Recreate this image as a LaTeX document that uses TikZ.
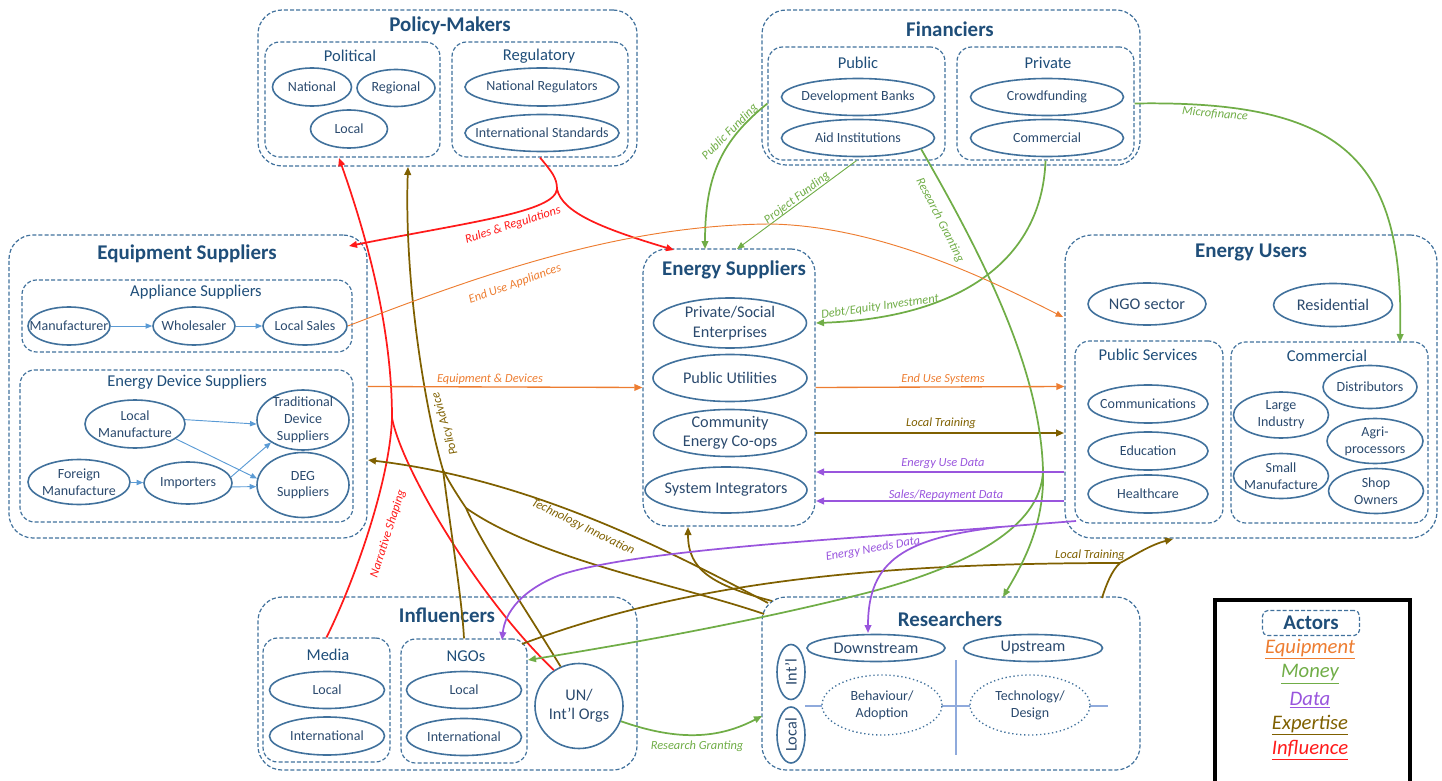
\documentclass[tikz,border=0pt]{standalone}
\usepackage{fontspec}
\setmainfont{Carlito}
\usetikzlibrary{arrows.meta,fit,calc,shapes.geometric}
\definecolor{bc}{HTML}{41719C}
\definecolor{tc}{HTML}{1F4E79}
\definecolor{et}{HTML}{2B4A6E}
\definecolor{cor}{HTML}{ED7D31}
\definecolor{cgr}{HTML}{70AD47}
\definecolor{cpu}{HTML}{9955DD}
\definecolor{cbr}{HTML}{7F6000}
\definecolor{cre}{HTML}{FF1A1A}
\definecolor{lb}{HTML}{5B9BD5}
\definecolor{xl}{HTML}{8FAADC}
\newcommand{\fT}{\fontsize{15.7}{18}\selectfont\bfseries}
\newcommand{\fH}{\fontsize{12.4}{14.5}\selectfont}
\newcommand{\fE}{\fontsize{10.5}{12.6}\selectfont}
\newcommand{\fB}{\fontsize{12.2}{14.6}\selectfont}
\newcommand{\fL}{\fontsize{9.3}{11}\selectfont\itshape}
\newcommand{\fLg}{\fontsize{15.5}{18}\selectfont\itshape}
\newcommand{\Ell}[6][]{\node[ell,minimum width=#4*0.75pt,minimum height=#5*0.75pt] (#2) at (#3) {};\node[etext,#1] (#2-t) at (#2.center) {#6};}
\begin{document}
\begin{tikzpicture}[x=0.75pt,y=-0.75pt,
 grp/.style={draw=bc, line width=0.9pt, dash pattern=on 3pt off 1.6pt, rounded corners=#1, inner sep=0pt},
 grp/.default=11pt,
 ell/.style={draw=bc, line width=1.2pt, ellipse, inner sep=0pt},
 dell/.style={draw=bc, line width=1pt, dotted, ellipse, inner sep=0pt, fill=white},
 etext/.style={text=et, font=\fE, align=center, inner sep=0pt},
 ttl/.style={text=tc, font=\fT, inner sep=0pt},
 hd/.style={text=tc, font=\fH, inner sep=0pt},
 lbl/.style={font=\fL, inner sep=0pt},
 ln/.style={line width=1.3pt},
 ar/.style={line width=1.3pt, -{Triangle[length=6pt,width=5pt]}},
 art/.style={line width=0.7pt, -{Triangle[length=5.5pt,width=4.5pt]}},
 bar/.style={draw=lb, line width=0.7pt, -{Triangle[length=5pt,width=4pt]}},
 lgd/.style={font=\fLg, inner sep=0pt}
]
\useasboundingbox (0,0) rectangle (1442,781);

% ---------------- Policy-Makers
\node[grp=18pt, fit={(258,10) (637,166)}] (pm) {};
\node[ttl] (pmT) at (450,26) {Policy-Makers};
\node[grp, fit={(265,42) (440,157)}] (pol) {};
\node[hd] (polT) at (350,56) {Political};
\Ell{nat}{312,87}{79}{38}{National}
\Ell{rgn}{396,88}{78}{37}{Regional}
\Ell{loc}{349,129}{77}{38}{Local}
\node[grp, fit={(452,42) (628,157)}] (reg) {};
\node[hd] (regT) at (539,56) {Regulatory};
\Ell{nreg}{542,87}{154}{38}{National Regulators}
\Ell{istd}{542,133}{154}{37}{International Standards}

% ---------------- Financiers
\node[grp=18pt, fit={(762,10) (1140,165)}] (fin) {};
\node[ttl] (finT) at (950,29) {Financiers};
\node[grp, fit={(768,47) (945,160)}] (pub) {};
\node[hd] (pubT) at (858,63) {Public};
\Ell{dbk}{858,97}{153}{37}{Development Banks}
\Ell{aid}{858,138}{153}{37}{Aid Institutions}
\node[grp, fit={(957,47) (1134,160)}] (pri) {};
\node[hd] (priT) at (1048,63) {Private};
\Ell{cfd}{1047,97}{153}{37}{Crowdfunding}
\Ell{cml}{1047,138}{153}{37}{Commercial}

% ---------------- Equipment Suppliers
\node[grp=18pt, fit={(9,235) (367,538)}] (eqs) {};
\node[ttl] (eqsT) at (187,254) {Equipment Suppliers};
\node[grp, fit={(22,280) (352,352)}] (app) {};
\node[hd] (appT) at (196,292) {Appliance Suppliers};
\Ell{man}{69,326}{82}{38}{Manufacturer}
\Ell{who}{194,326}{82}{38}{Wholesaler}
\Ell{lsa}{305,326}{84}{38}{Local Sales}
\node[grp, fit={(20,370) (353,522)}] (eds) {};
\node[hd] (edsT) at (187,382) {Energy Device Suppliers};
\Ell{lman}{135,424}{100}{48}{Local\\Manufacture}
\Ell{fman}{79,482}{102}{45}{Foreign\\Manufacture}
\Ell{imp}{188,483}{88}{42}{Importers}
\Ell{trad}{303,420}{92}{60}{Traditional\\Device\\Suppliers}
\Ell{deg}{303,485}{92}{65}{DEG\\Suppliers}
\draw[bar] (man) -- (who);
\draw[bar] (who) -- (lsa);
\draw[bar] (lman.5) -- (trad.185);
\draw[bar] (lman.-20) -- (deg.172);
\draw[bar] (fman) -- (imp);
\draw[bar] (imp.8) -- (trad.215);
\draw[bar] (imp.-5) -- (deg.182);

% ---------------- Energy Suppliers
\node[grp=18pt, fit={(643,249) (815,526)}] (esu) {};
\node[ttl] (esuT) at (734,270) {Energy Suppliers};
\Ell[font=\fB]{pse}{730,323}{153}{50}{Private/Social\\Enterprises}
\Ell[font=\fB]{put}{730,378}{154}{47}{Public Utilities}
\Ell[font=\fB]{cec}{730,433}{153}{47}{Community\\Energy Co-ops}
\Ell[font=\fB]{sin}{726,490}{162}{46}{System Integrators}

% ---------------- Energy Users
\node[grp=20pt, fit={(1065,235) (1437,538)}] (eus) {};
\node[ttl] (eusT) at (1251,252) {Energy Users};
\Ell[font=\fB]{ngs}{1147,304}{118}{42}{NGO sector}
\Ell[font=\fB]{rsd}{1333,305}{119}{43}{Residential}
\node[grp, fit={(1075,341) (1223,523)}] (psv) {};
\node[hd] (psvT) at (1148,355) {Public Services};
\Ell{cmm}{1148,404}{120}{38}{Communications}
\Ell{edu}{1148,451}{120}{38}{Education}
\Ell{hlt}{1148,494}{120}{38}{Healthcare}
\node[grp, fit={(1231,342) (1428,523)}] (com) {};
\node[hd] (comT) at (1327,356) {Commercial};
\Ell{dst}{1370,387}{94}{43}{Distributors}
\Ell{lin}{1281,415}{95}{46}{Large\\Industry}
\Ell{agr}{1375,441}{96}{45}{Agri-\\processors}
\Ell{sma}{1281,476}{95}{45}{Small\\Manufacture}
\Ell{sho}{1376,491}{95}{45}{Shop\\Owners}

% ---------------- Influencers
\node[grp=18pt, fit={(258,597) (637,770)}] (inf) {};
\node[ttl] (infT) at (447,615) {Influencers};
\node[grp, fit={(263,638) (390,762)}] (med) {};
\node[hd] (medT) at (328,655) {Media};
\Ell{mloc}{327,690}{115}{37}{Local}
\Ell{mint}{327,736}{115}{38}{International}
\node[grp, fit={(401,639) (527,763)}] (ngo) {};
\node[hd] (ngoT) at (466,656) {NGOs};
\Ell{nloc}{464,690}{115}{37}{Local}
\Ell{nint}{464,737}{115}{37}{International}
\Ell[font=\fB]{un}{579,706}{88}{85}{UN/\\Int’l Orgs}

% ---------------- Researchers
\node[grp=18pt, fit={(762,597) (1140,770)}] (res) {};
\node[ttl] (resT) at (950,619) {Researchers};
\draw[xl, line width=0.8pt] (805,706) -- (1108,706);
\draw[xl, line width=0.8pt] (956,660) -- (956,755);
\Ell[font=\fB]{dsm}{876,648}{138}{27}{Downstream}
\Ell[font=\fB]{usm}{1033,648}{139}{27}{Upstream}
\Ell[font=\fB,rotate=90]{intl}{791,672}{28}{55}{Int’l}
\Ell[font=\fB,rotate=90]{rloc}{791,735}{28}{56}{Local}
\node[dell, minimum width=120*0.75pt, minimum height=60*0.75pt] (bad) at (882,705) {};
\node[etext] (bad-t) at (bad.center) {Behaviour/\\Adoption};
\node[dell, minimum width=120*0.75pt, minimum height=60*0.75pt] (tdz) at (1030,705) {};
\node[etext] (tdz-t) at (tdz.center) {Technology/\\Design};

% ---------------- Legend
\node[draw=black, line width=3pt, inner sep=0pt, fit={(1215,600) (1410,800)}] (leg) {};
\node[grp=4pt, ttl, minimum width=97*0.75pt, minimum height=25*0.75pt] (act) at (1311,623) {Actors};
\node[lgd, text=cor] (lgE) at (1310,649) {\underline{Equipment}};
\node[lgd, text=cgr] (lgM) at (1310,674) {\underline{Money}};
\node[lgd, text=cpu] (lgD) at (1310,700) {\underline{Data}};
\node[lgd, text=cbr] (lgX) at (1310,725) {\underline{Expertise}};
\node[lgd, text=cre] (lgI) at (1310,750) {\underline{Influence}};

% ================= connectors
\coordinate (rrJ) at (557,189);
\coordinate (rrL) at (349,246);
\coordinate (rrR) at (674,250);
\coordinate (nJ) at (392,418);
\coordinate (polIn) at (339,158);
\coordinate (pA) at (408,167);
\coordinate (pJ1) at (443,470);
\coordinate (pJ2) at (466,508);
\coordinate (rPA) at (764,614);
\coordinate (rTI) at (768,603);
\coordinate (rES) at (772,601);
\coordinate (eqIn) at (368,460);
\coordinate (esIn) at (688,527);
\coordinate (ngoLT) at (522,644);
\coordinate (ltJ) at (1120,563);
\coordinate (rTR) at (1102,598);
\coordinate (euLT) at (1173,539);
\coordinate (esPF) at (705,249);
\coordinate (esPJ) at (737,249);
\coordinate (gJ) at (1043,470);
\coordinate (rRG) at (1003,597);
\coordinate (ngoG) at (528,660);
\coordinate (esDE) at (816,323);
\coordinate (comIn) at (1400,342);
\coordinate (rRG2) at (762,716);
\coordinate (euED) at (1064,472);
\coordinate (esED) at (816,472);
\coordinate (euSR) at (1064,501);
\coordinate (esSR) at (816,501);
\coordinate (euND) at (1076,521);
\coordinate (pnJ) at (1000,527);
\coordinate (ngoND) at (502,640);
\coordinate (dsIn) at (868,633);
\coordinate (euEA) at (1063,317);
\coordinate (esLT) at (815,433);
\coordinate (euLT2) at (1064,433);

% Influence (red)
\draw[cre, ln] (reg.south) .. controls (552,172) and (557,178) .. (rrJ);
\draw[cre, ar] (rrJ) .. controls (555,212) and (470,222) .. (rrL);
\draw[cre, ar] (rrJ) .. controls (562,212) and (600,228) .. (rrR);
\draw[cre, ar] (nJ) .. controls (392,330) and (368,240) .. (polIn);
\draw[cre, ln] (med.north) .. controls (355,580) and (390,480) .. (nJ);
\draw[cre, ln] (un.125) .. controls (480,600) and (402,470) .. (nJ);

% Expertise (brown)
\draw[cbr, ar] (pJ1) .. controls (425,410) and (404,280) .. (pA);
\draw[cbr, ln] (ngo.north) .. controls (462,600) and (452,540) .. (pJ1);
\draw[cbr, ln] (un.115) .. controls (520,600) and (482,545) .. (pJ2) .. controls (458,496) and (450,484) .. (pJ1);
\draw[cbr, ln] (rPA) .. controls (680,585) and (540,560) .. (pJ2);
\draw[cbr, ar] (rTI) .. controls (650,540) and (520,478) .. (eqIn);
\draw[cbr, ar] (rES) .. controls (712,585) and (688,570) .. (esIn);
\draw[cbr, ln] (ngoLT) .. controls (680,585) and (860,563) .. (ltJ);
\draw[cbr, ln] (rTR) .. controls (1106,585) and (1112,570) .. (ltJ);
\draw[cbr, ar] (ltJ) .. controls (1135,555) and (1150,545) .. (euLT);
\draw[cbr, ar] (esLT) -- (euLT2);

% Money (green)
\draw[cgr, ar] (pub.west) .. controls (722,140) and (705,175) .. (esPF);
\draw[cgr, art] (pub.south) -- (esPJ);
\draw[cgr, ln] (aid.-10) .. controls (985,260) and (1040,370) .. (gJ);
\draw[cgr, ar] (gJ) .. controls (1045,525) and (1022,565) .. (rRG);
\draw[cgr, ar] (gJ) .. controls (1042,530) and (960,568) .. (870,592) .. controls (760,620) and (640,642) .. (ngoG);
\draw[cgr, ar] (pri.south) .. controls (1042,260) and (960,318) .. (esDE);
\draw[cgr, ar] (pri.east) .. controls (1345,100) and (1404,160) .. (comIn);
\draw[cgr, ar] (un.-20) .. controls (680,742) and (720,738) .. (rRG2);

% Data (purple)
\draw[cpu, ar] (euED) -- (esED);
\draw[cpu, ar] (euSR) -- (esSR);
\draw[cpu, ln] (euND) .. controls (1050,523) and (1025,525) .. (pnJ);
\draw[cpu, ar] (pnJ) .. controls (880,537) and (640,548) .. (560,575) .. controls (522,590) and (505,612) .. (ngoND);
\draw[cpu, ar] (pnJ) .. controls (905,538) and (868,560) .. (dsIn);

% Equipment (orange)
\draw[cor, art] (lsa.east) .. controls (480,275) and (620,225) .. (770,224) .. controls (880,226) and (990,280) .. (euEA);
\draw[cor, ar, line width=1pt] (eqs.east) -- (esu.west);
\draw[cor, ar, line width=1pt] (esu.east) -- (eus.west);

% labels
\node[lbl, text=cre, rotate=18] (lRR) at (513,225) {Rules \& Regulations};
\node[lbl, text=cre, rotate=72] (lNS) at (388,534) {Narrative Shaping};
\node[lbl, text=cbr, rotate=107] (lPA) at (445,424) {Policy Advice};
\node[lbl, text=cbr, rotate=-26] (lTI) at (583,527) {Technology Innovation};
\node[lbl, text=cbr] (lLT1) at (1090,555) {Local Training};
\node[lbl, text=cbr] (lLT2) at (941,423) {Local Training};
\node[lbl, text=cgr, rotate=45] (lPF) at (730,132) {Public Funding};
\node[lbl, text=cgr, rotate=37] (lPJ) at (797,198) {Project Funding};
\node[lbl, text=cgr, rotate=-63] (lRG) at (940,220) {Research Granting};
\node[lbl, text=cgr, rotate=8] (lDE) at (880,307) {Debt/Equity Investment};
\node[lbl, text=cgr, rotate=-5] (lMF) at (1215,114) {Microfinance};
\node[lbl, text=cgr] (lRG2) at (697,746) {Research Granting};
\node[lbl, text=cpu] (lEU) at (943,464) {Energy Use Data};
\node[lbl, text=cpu] (lSR) at (946,495) {Sales/Repayment Data};
\node[lbl, text=cpu, rotate=10] (lEN) at (873,549) {Energy Needs Data};
\node[lbl, text=cor, rotate=20] (lEA) at (515,284) {End Use Appliances};
\node[lbl, text=cor] (lED) at (490,379) {Equipment \& Devices};
\node[lbl, text=cor] (lES) at (943,379) {End Use Systems};
\end{tikzpicture}
\end{document}
